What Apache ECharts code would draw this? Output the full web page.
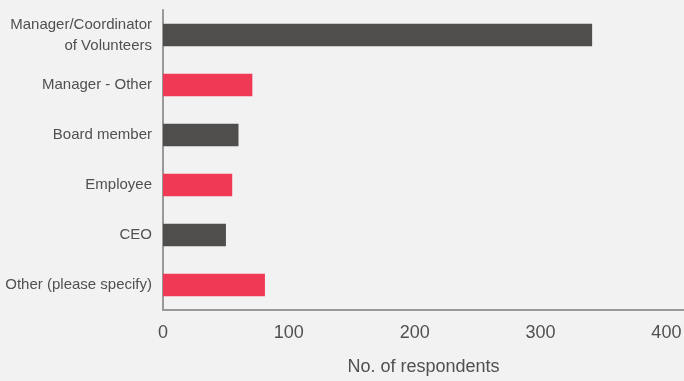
<!DOCTYPE html>
<html>
<head>
<meta charset="utf-8">
<script src="https://cdn.jsdelivr.net/npm/echarts@6/dist/echarts.min.js"></script>
<style>
html,body{margin:0;padding:0;background:#f2f2f2;}
#chart{width:684px;height:381px;}
</style>
</head>
<body>
<div id="chart"></div>
<script>
const categories = ["Manager/Coordinator\nof Volunteers", "Manager - Other", "Board member", "Employee", "CEO", "Other (please specify)"];
const values = [341, 71, 60, 55, 50, 81];
const barColors = ["#4f4e4c", "#ef3955", "#4f4e4c", "#ef3955", "#4f4e4c", "#ef3955"];
const axisTitle = "No. of respondents";

const FONT = "'Liberation Sans', Arial, sans-serif";
const chart = echarts.init(document.getElementById('chart'), null, {renderer: 'canvas'});
chart.setOption({
  backgroundColor: '#f2f2f2',
  animation: false,
  grid: {left: 163, right: 0, top: 10, bottom: 71, containLabel: false, outerBoundsMode: 'none'},
  xAxis: {
    type: 'value', min: 0, max: 414, interval: 100,
    axisLine: {show: true, lineStyle: {color: '#999999', width: 2}},
    axisTick: {show: false},
    splitLine: {show: false},
    axisLabel: {
      color: '#505050', fontSize: 18, fontFamily: FONT, margin: 14,
      showMaxLabel: false,
      formatter: v => (v % 100 === 0 ? String(v) : '')
    },
    name: axisTitle, nameLocation: 'middle', nameGap: 48,
    nameTextStyle: {color: '#505050', fontSize: 18, fontFamily: FONT}
  },
  yAxis: {
    type: 'category', data: categories, inverse: true,
    axisLine: {show: true, lineStyle: {color: '#999999', width: 2}},
    axisTick: {show: false},
    axisLabel: {color: '#505050', fontSize: 15, fontFamily: FONT, margin: 11, lineHeight: 21, align: 'right'}
  },
  series: [{
    type: 'bar', barWidth: '45%',
    data: values.map((v, i) => ({value: v, itemStyle: {color: barColors[i]}}))
  }]
});
</script>
</body>
</html>
